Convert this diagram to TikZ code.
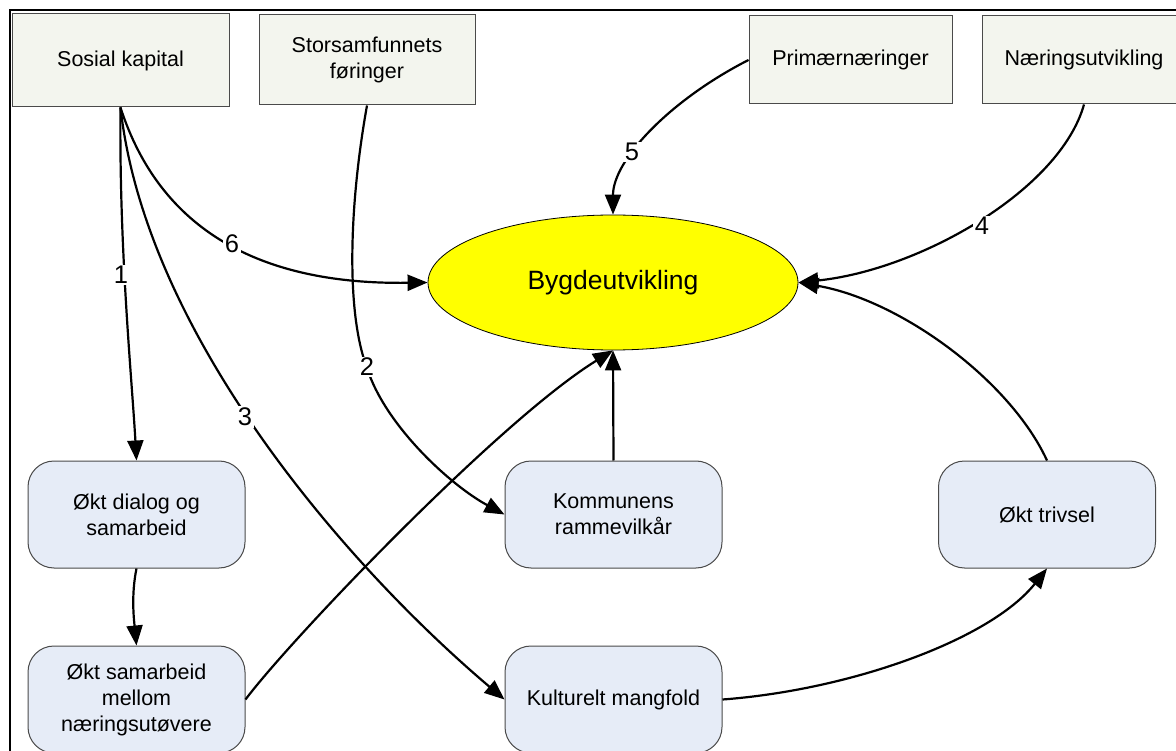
\documentclass[tikz,border=0pt]{standalone}
\usepackage{fontspec}
\setmainfont{Liberation Sans}
\usetikzlibrary{arrows.meta,shapes.geometric}
\definecolor{topfill}{HTML}{F3F5EE}
\definecolor{botfill}{HTML}{E6ECF7}
\definecolor{boxline}{HTML}{4A4A4A}
\definecolor{ellfill}{HTML}{FFFF00}
\begin{document}
\begin{tikzpicture}[x=1pt,y=-1pt,
  boxtext/.style={font=\fontsize{21.5}{26}\selectfont, align=center, text=black},
  topbox/.style={boxtext, rectangle, draw=boxline, line width=1pt, fill=topfill, inner sep=0pt},
  botbox/.style={boxtext, rectangle, rounded corners=26pt, draw=boxline, line width=1pt, fill=botfill, inner sep=0pt, minimum width=217pt, minimum height=107pt},
  arr/.style={line width=2.2pt, -{Triangle[length=20pt,width=16pt]}},
  lbl/.style={fill=white, inner sep=1.5pt, font=\fontsize{25.5}{29}\selectfont}]
\clip (0,0) rectangle (1176,751);
\fill[white] (0,0) rectangle (1176,751);
\draw[line width=2.2pt] (10,770) -- (10,10) -- (1190,10);

% top boxes
\node[topbox, minimum width=217pt, minimum height=93pt] (sk) at (120.5,60.5) {Sosial kapital};
\node[topbox, minimum width=216pt, minimum height=90pt] (sf) at (367,60) {Storsamfunnets\\føringer};
\node[topbox, minimum width=203pt, minimum height=88pt] (pn) at (850.5,60) {Primærnæringer};
\node[topbox, minimum width=204pt, minimum height=88pt] (nu) at (1084,60) {Næringsutvikling};

% central ellipse
\node[ellipse, draw=black, line width=0.8pt, fill=ellfill, minimum width=370pt, minimum height=135pt, inner sep=0pt, font=\fontsize{26.5}{30}\selectfont] (by) at (613,282.5) {Bygdeutvikling};

% bottom boxes
\node[botbox] (dlg) at (136.5,514.5) {Økt dialog og\\samarbeid};
\node[botbox] (sam) at (136.5,699.5) {Økt samarbeid\\mellom\\næringsutøvere};
\node[botbox] (kom) at (613.5,514.5) {Kommunens\\rammevilkår};
\node[botbox] (tri) at (1047,514.5) {Økt trivsel};
\node[botbox] (kul) at (613.5,699.5) {Kulturelt mangfold};

% connectors
\draw[arr] (sk.south) .. controls (119,250) and (132,380) .. (dlg.north);
\draw[arr] (sk.south) .. controls (160,230) and (260,285) .. (by.west);
\draw[arr] (sk.south) .. controls (145,330) and (340,560) .. (kul.west);
\draw[arr] (sf.south) .. controls (350,200) and (345,310) .. (367,368) .. controls (385,425) and (450,485) .. (kom.west);
\draw[arr] (pn.west) .. controls (670,100) and (613,160) .. (by.north);
\draw[arr] (nu.south) .. controls (1060,190) and (920,270) .. (by.east);
\draw[arr] (sam.east) .. controls (290,640) and (500,420) .. (by.south);
\draw[arr] (kom.north) -- (by.south);
\draw[arr] (tri.north) .. controls (1010,380) and (900,300) .. (by.east);
\draw[arr] (kul.east) .. controls (850,690) and (990,640) .. (tri.south);
\draw[arr] (dlg.south) .. controls (131,595) and (134,620) .. (sam.north);

% labels
\node[lbl] (l1) at (121,275) {1};
\node[lbl] (l6) at (232,244) {6};
\node[lbl] (l3) at (245,417) {3};
\node[lbl] (l2) at (367,367) {2};
\node[lbl] (l5) at (632,152) {5};
\node[lbl] (l4) at (982,226) {4};
\end{tikzpicture}
\end{document}
